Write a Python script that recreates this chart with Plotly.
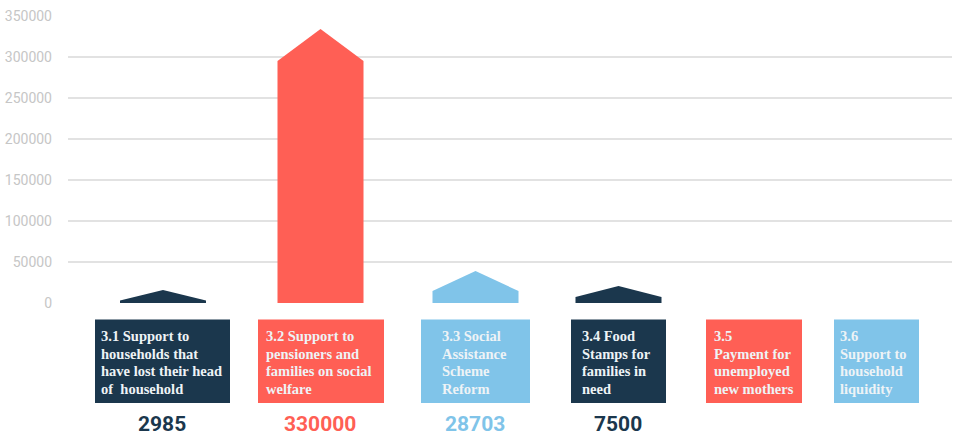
import plotly.graph_objects as go

# ---- data ----
label_lines = [
    ["3.1 Support to", "households that", "have lost their head", "of  household"],
    ["3.2 Support to", "pensioners and", "families on social", "welfare"],
    ["3.3 Social", "Assistance", "Scheme", "Reform"],
    ["3.4 Food", "Stamps for", "families in", "need"],
    ["3.5", "Payment for", "unemployed", "new mothers"],
    ["3.6", "Support to", "household", "liquidity"],
]
values = [2985, 330000, 28703, 7500, None, None]
shaft_top = [3000, 295000, 14600, 7300, None, None]
arrow_tip = [15800, 334000, 39000, 20700, None, None]
y_ticks = [0, 50000, 100000, 150000, 200000, 250000, 300000, 350000]

# ---- layout / style constants ----
W, H = 957, 435
PL, PR, PT, PB = 68, 952, 16, 303          # plot area in pixels
slot_x = [163, 320.5, 475.5, 618.5, 754, 876.5]   # slot centres (px)
bar_w = 86
box_x = [(95, 230), (258, 384), (421, 530), (571, 666), (706, 802), (834, 919)]
text_x = [100, 265, 441, 581, 713, 839]
box_y = (319.5, 403)
line_y0, line_gap = 336, 17.7
colors = ["#1b374d", "#ff5f55", "#80c4e9", "#1b374d", "#ff5f55", "#80c4e9"]


def px(xp):
    return (xp - PL) / (PR - PL)


def py(yp):
    return (PB - yp) / (PB - PT)


fig = go.Figure()

for i, v in enumerate(values):
    if v is None:
        continue
    xc = slot_x[i]
    x0, x1 = xc - bar_w / 2, xc + bar_w / 2
    fig.add_trace(go.Scatter(
        x=[x0, x0, xc, x1, x1, x0],
        y=[0, shaft_top[i], arrow_tip[i], shaft_top[i], 0, 0],
        mode="lines", fill="toself", fillcolor=colors[i],
        line=dict(width=0, color=colors[i]), hoverinfo="skip",
        showlegend=False,
    ))

shapes = []
annotations = []
for i, lines in enumerate(label_lines):
    bx0, bx1 = box_x[i]
    shapes.append(dict(type="rect", xref="paper", yref="paper",
                       x0=px(bx0), x1=px(bx1), y0=py(box_y[0]), y1=py(box_y[1]),
                       fillcolor=colors[i], line=dict(width=0), layer="above"))
    for j, s in enumerate(lines):
        annotations.append(dict(xref="paper", yref="paper", x=px(text_x[i] - 1),
                                y=py(line_y0 + j * line_gap),
                                xanchor="left", yanchor="middle", align="left",
                                text="<b>%s</b>" % s, showarrow=False,
                                font=dict(family="Liberation Serif", size=14.5, color="#eef3f6")))
    if values[i] is not None:
        annotations.append(dict(xref="paper", yref="paper", x=px(slot_x[i] - 1), y=py(424),
                                xanchor="center", yanchor="middle",
                                text="<b>%d</b>" % values[i], showarrow=False,
                                font=dict(family="Roboto", size=21, color=colors[i])))

fig.update_layout(
    width=W, height=H,
    margin=dict(l=PL, r=W - PR, t=PT, b=H - PB, autoexpand=False),
    paper_bgcolor="white", plot_bgcolor="white",
    xaxis=dict(range=[PL, PR], visible=False, fixedrange=True, automargin=False),
    yaxis=dict(range=[0, 350000], tickvals=y_ticks, ticktext=[str(t) for t in y_ticks],
               showgrid=True, gridcolor="#e2e2e2", gridwidth=1.5, automargin=False,
               zeroline=False, showline=False, ticks="", ticklabelstandoff=15,
               tickfont=dict(family="Roboto", size=14, color="#c6c6c6")),
    shapes=shapes, annotations=annotations,
)

fig.write_html("out.html", config={"displayModeBar": False},
               post_script="document.body.style.margin='0';document.body.style.overflow='hidden';")
